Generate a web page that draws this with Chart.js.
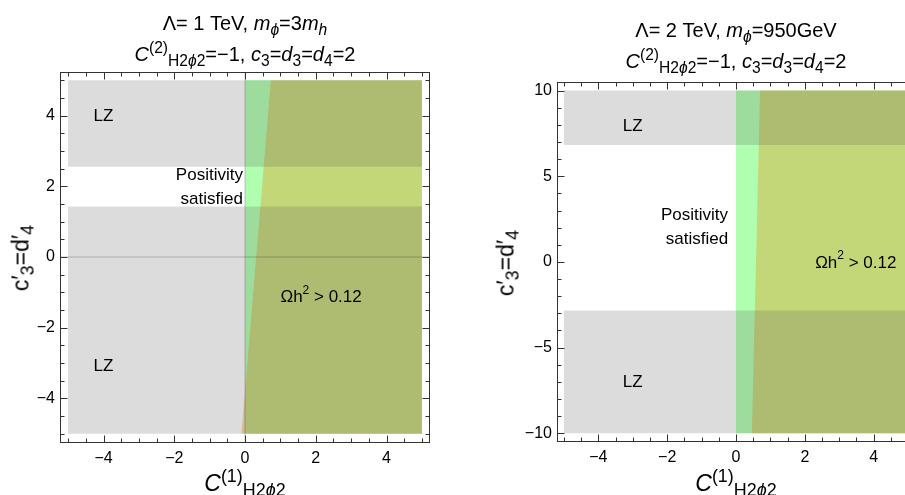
<!DOCTYPE html>
<html>
<head>
<meta charset="utf-8">
<script src="https://cdn.jsdelivr.net/npm/chart.js@4"></script>
<style>
  html, body { margin: 0; padding: 0; width: 905px; height: 495px; overflow: hidden; background: #fff; }
  body { position: relative; font-family: 'Liberation Sans', Arial, sans-serif; color: #000; }
  .box { position: absolute; top: 0; height: 495px; }
  .title { position: absolute; width: 420px; text-align: center; font-size: 20px; line-height: 31px; white-space: nowrap; }
  .xlab { position: absolute; width: 200px; text-align: center; font-size: 23px; line-height: 23px; white-space: nowrap; }
  .ylab { position: absolute; font-size: 23px; line-height: 23px; white-space: nowrap; transform: translate(-50%, -50%) rotate(-90deg); }
  sub, sup { font-size: 78%; line-height: 0; position: relative; vertical-align: baseline; }
  sup { top: -0.5em; }
  sub { bottom: -0.3em; }
</style>
</head>
<body>
<div class="box" style="left:0; width:450px;"><canvas id="canvas-left"></canvas></div>
<div class="box" style="left:470px; width:460px;"><canvas id="canvas-right"></canvas></div>

<div class="title" style="left:35px; top:8px;">Λ= 1 TeV, <i>m</i><sub><i>ϕ</i></sub>=3<i>m</i><sub><i>h</i></sub><br><i>C</i><sup>(2)</sup><sub>H2<i>ϕ</i>2</sub>=−1, <i>c</i><sub>3</sub>=<i>d</i><sub>3</sub>=<i>d</i><sub>4</sub>=2</div>
<div class="title" style="left:526px; top:15px;">Λ= 2 TeV, <i>m</i><sub><i>ϕ</i></sub>=950GeV<br><i>C</i><sup>(2)</sup><sub>H2<i>ϕ</i>2</sub>=−1, <i>c</i><sub>3</sub>=<i>d</i><sub>3</sub>=<i>d</i><sub>4</sub>=2</div>

<div class="xlab" style="left:145px; top:472px;"><i>C</i><sup>(1)</sup><sub>H2<i>ϕ</i>2</sub></div>
<div class="xlab" style="left:636px; top:472px;"><i>C</i><sup>(1)</sup><sub>H2<i>ϕ</i>2</sub></div>
<div class="ylab" style="left:21px; top:258px;">c′<sub>3</sub>=d′<sub>4</sub></div>
<div class="ylab" style="left:506px; top:263px;">c′<sub>3</sub>=d′<sub>4</sub></div>

<script>
// ---- left panel: Lambda = 1 TeV ----
var leftC1 = [-5, 5];                 // scanned C(1) range
var leftC3 = [-5, 5];                 // scanned c3' range
var leftLZUpper = [2.55, 5];          // excluded by LZ (c3')
var leftLZLower = [-5, 1.43];
var leftPositivity = [0, 5];          // C(1) >= 0
var leftRelicTop = [0.73, 5];         // Omega h^2 = 0.12 edge, (C1, c3')
var leftRelicBottom = [-0.1, -5];
var leftXTicks = [-4, -2, 0, 2, 4];
var leftYTicks = [-4, -2, 0, 2, 4];

// ---- right panel: Lambda = 2 TeV ----
var rightC1 = [-5, 5];
var rightC3 = [-10, 10];
var rightLZUpper = [6.82, 10];
var rightLZLower = [-10, -2.84];
var rightPositivity = [0, 5];
var rightRelicTop = [0.70, 10];
var rightRelicBottom = [0.46, -10];
var rightXTicks = [-4, -2, 0, 2, 4];
var rightYTicks = [-10, -5, 0, 5, 10];

var GREEN = 'rgba(0,255,0,0.31)';
var ORANGE = 'rgba(225,156,36,0.4)';
var GRAY = 'rgba(80,80,80,0.2)';
var FONT = "'Liberation Sans', Arial, sans-serif";

Chart.defaults.font.family = FONT;
Chart.defaults.font.size = 16;
Chart.defaults.color = '#000';

var rect = function(xr, yr) {
    return [{x: xr[0], y: yr[0]}, {x: xr[1], y: yr[0]}, {x: xr[1], y: yr[1]},
            {x: xr[0], y: yr[1]}, {x: xr[0], y: yr[0]}];
};

var relicShape = function(top, bottom, c1) {
    return [{x: top[0], y: top[1]}, {x: c1[1], y: top[1]}, {x: c1[1], y: bottom[1]},
            {x: bottom[0], y: bottom[1]}, {x: top[0], y: top[1]}];
};

var area = function(data, color, order) {
    return {data: data, showLine: true, fill: 'shape', backgroundColor: color,
            borderColor: 'transparent', borderWidth: 0, pointRadius: 0, order: order};
};

var isMult = function(v, step) {
    var r = v / step;
    return Math.abs(r - Math.round(r)) < 1e-6;
};

var fmt = function(v) {
    return v < 0 ? '\u2212' + Math.abs(v) : String(v);
};

// inward Mathematica-style frame ticks on all four sides
var framePlugin = {
    id: 'frame',
    afterDraw: function(chart, args, opts) {
        var ctx = chart.ctx, a = chart.chartArea;
        var xs = chart.scales.x, ys = chart.scales.y;
        var L = Math.round(a.left) + 0.5, R = Math.round(a.right) + 0.5;
        var T = Math.round(a.top) + 0.5, B = Math.round(a.bottom) + 0.5;
        ctx.save();
        ctx.strokeStyle = '#333';
        ctx.lineWidth = 1;
        ctx.beginPath();
        xs.ticks.forEach(function(t) {
            if (!isMult(t.value, opts.xMinor)) return;
            var len = isMult(t.value, opts.xMajor) ? 7 : 4;
            var p = Math.round(xs.getPixelForValue(t.value)) + 0.5;
            ctx.moveTo(p, B); ctx.lineTo(p, B - len);
            ctx.moveTo(p, T); ctx.lineTo(p, T + len);
        });
        ys.ticks.forEach(function(t) {
            if (!isMult(t.value, opts.yMinor)) return;
            var len = isMult(t.value, opts.yMajor) ? 7 : 4;
            var p = Math.round(ys.getPixelForValue(t.value)) + 0.5;
            ctx.moveTo(L, p); ctx.lineTo(L + len, p);
            ctx.moveTo(R, p); ctx.lineTo(R - len, p);
        });
        ctx.stroke();
        ctx.strokeRect(L, T, R - L, B - T);
        ctx.restore();
    }
};

// text inside the plot; a part {t, sup:true} is raised and smaller
var notePlugin = {
    id: 'notes',
    afterDatasetsDraw: function(chart, args, opts) {
        var ctx = chart.ctx;
        ctx.save();
        ctx.fillStyle = '#000';
        ctx.textBaseline = 'middle';
        ctx.textAlign = 'left';
        (opts.items || []).forEach(function(n) {
            var px = chart.scales.x.getPixelForValue(n.x);
            var py = chart.scales.y.getPixelForValue(n.y);
            n.lines.forEach(function(parts, i) {
                var w = 0;
                parts.forEach(function(pt) {
                    ctx.font = (pt.sup ? 12 : 17) + 'px ' + FONT;
                    w += ctx.measureText(pt.t).width;
                });
                var x0 = n.align === 'right' ? px - w : px - w / 2;
                var y0 = py + (i - (n.lines.length - 1) / 2) * 24;
                parts.forEach(function(pt) {
                    ctx.font = (pt.sup ? 12 : 17) + 'px ' + FONT;
                    ctx.fillText(pt.t, x0, pt.sup ? y0 - 7 : y0);
                    x0 += ctx.measureText(pt.t).width;
                });
            });
        });
        ctx.restore();
    }
};

var generate_config = function(p) {
    var datasets = [
        area(rect(p.c1, p.lzUpper), GRAY, 1),
        area(rect(p.c1, p.lzLower), GRAY, 1),
        area(relicShape(p.relicTop, p.relicBottom, p.c1), ORANGE, 2),
        area(rect(p.positivity, p.c3), GREEN, 3)
    ];
    if (p.axes) {
        datasets.unshift({data: [{x: p.xr[0], y: 0}, {x: p.xr[1], y: 0}], showLine: true,
                          borderColor: 'rgba(0,0,0,0.22)', borderWidth: 1, pointRadius: 0, order: 0});
        datasets.unshift({data: [{x: 0, y: p.yr[0]}, {x: 0, y: p.yr[1]}], showLine: true,
                          borderColor: 'rgba(0,0,0,0.22)', borderWidth: 1, pointRadius: 0, order: 0});
    }
    return {
        type: 'scatter',
        data: {datasets: datasets},
        options: {
            responsive: true,
            maintainAspectRatio: false,
            animation: false,
            layout: {padding: {top: p.padTop, right: p.padRight, left: 0, bottom: 0}},
            plugins: {
                legend: {display: false},
                tooltip: {enabled: false},
                frame: {xMajor: 2, xMinor: 0.5, yMajor: p.yMajor, yMinor: p.yMinor},
                notes: {items: p.notes}
            },
            scales: {
                x: {
                    min: p.xr[0], max: p.xr[1],
                    grid: {display: false, drawTicks: false},
                    border: {display: false},
                    ticks: {stepSize: 0.5, autoSkip: false, includeBounds: false, maxRotation: 0, padding: 7,
                            callback: function(v) { return p.xTicks.indexOf(v) >= 0 ? fmt(v) : ''; }},
                    afterFit: function(s) { s.height = p.xAxisH; }
                },
                y: {
                    min: p.yr[0], max: p.yr[1],
                    grid: {display: false, drawTicks: false},
                    border: {display: false},
                    ticks: {stepSize: p.yMinor, autoSkip: false, includeBounds: false, padding: 5,
                            callback: function(v) { return p.yTicks.indexOf(v) >= 0 ? fmt(v) : ''; }},
                    afterFit: function(s) { s.width = p.yAxisW; }
                }
            }
        },
        plugins: [framePlugin, notePlugin]
    };
};

var omega = [{t: 'Ωh'}, {t: '2', sup: true}, {t: ' > 0.12'}];

window.onload = function() {
    new Chart(document.getElementById('canvas-left'), generate_config({
        c1: leftC1, c3: leftC3, lzUpper: leftLZUpper, lzLower: leftLZLower,
        positivity: leftPositivity, relicTop: leftRelicTop, relicBottom: leftRelicBottom,
        xTicks: leftXTicks, yTicks: leftYTicks,
        xr: [-5.23, 5.2], yr: [-5.23, 5.23], yMajor: 2, yMinor: 0.5,
        padTop: 72, padRight: 21, yAxisW: 60, xAxisH: 53, axes: true,
        notes: [
            {lines: [[{t: 'LZ'}]], x: -4.0, y: 3.98},
            {lines: [[{t: 'LZ'}]], x: -4.0, y: -3.1},
            {lines: [[{t: 'Positivity'}], [{t: 'satisfied'}]], x: -0.06, y: 1.98, align: 'right'},
            {lines: [omega], x: 2.15, y: -1.15}
        ]
    }));
    new Chart(document.getElementById('canvas-right'), generate_config({
        c1: rightC1, c3: rightC3, lzUpper: rightLZUpper, lzLower: rightLZLower,
        positivity: rightPositivity, relicTop: rightRelicTop, relicBottom: rightRelicBottom,
        xTicks: rightXTicks, yTicks: rightYTicks,
        xr: [-5.2, 5.2], yr: [-10.45, 10.5], yMajor: 5, yMinor: 1,
        padTop: 82, padRight: 15, yAxisW: 87, xAxisH: 54, axes: false,
        notes: [
            {lines: [[{t: 'LZ'}]], x: -3.0, y: 7.9},
            {lines: [[{t: 'LZ'}]], x: -3.0, y: -7.05},
            {lines: [[{t: 'Positivity'}], [{t: 'satisfied'}]], x: -0.23, y: 2.0, align: 'right'},
            {lines: [omega], x: 3.48, y: -0.06}
        ]
    }));
};
</script>
</body>
</html>
